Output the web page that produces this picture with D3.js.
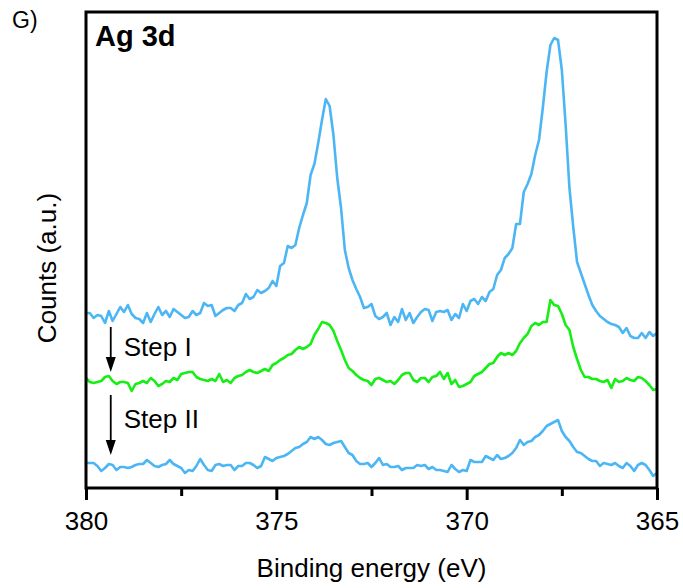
<!DOCTYPE html>
<html>
<head>
<meta charset="utf-8">
<script src="https://cdn.jsdelivr.net/npm/d3@7"></script>
<style>
  body { margin: 0; background: #fff; }
  svg { display: block; font-family: "Liberation Sans", Arial, sans-serif; }
</style>
</head>
<body>
<svg id="chart" width="683" height="588"></svg>
<script>
// scan grid: 380 eV down to 365 eV, 0.1 eV per step
var energyStart = 380, energyStep = 0.1, nPoints = 151;

// counts (a.u.), one value per scan step
var asPrepared = [
  175,175,170,173,172,165,177,167,174,181, 176,183,174,170,169,165,175,166,174,181,
  173,177,171,179,176,173,170,171,177,173, 175,185,182,183,172,175,178,180,180,177,
  183,185,194,189,191,198,195,197,200,207, 202,222,225,242,240,243,260,273,285,313,
  324,345,368,389,382,353,310,280,238,220, 208,199,191,180,181,184,172,169,171,175,
  163,171,166,179,168,175,165,171,176,179, 178,167,176,177,176,178,168,174,170,184,
  177,187,189,184,191,187,196,199,213,218, 230,234,240,264,264,296,304,314,333,348,
  380,416,443,450,448,418,363,300,261,226, 215,204,193,183,177,172,169,166,164,163,
  161,155,160,152,150,150,155,150,156,152,155
];
var stepI = [
  110,106,105,106,107,111,112,107,104,106, 106,105,97,104,105,107,105,110,107,102,
  104,107,106,110,108,114,115,116,116,111, 109,108,107,109,107,114,106,108,105,110,
  112,113,116,118,116,115,117,119,117,123, 125,128,130,133,134,138,141,139,141,144,
  153,159,166,165,163,157,147,138,128,120, 117,113,110,108,107,103,109,110,108,106,
  107,104,108,113,115,115,108,106,110,110, 106,111,112,116,109,115,104,108,101,102,
  104,106,112,114,116,120,124,125,131,135, 133,135,133,137,145,150,154,162,165,163,
  166,166,188,183,182,174,163,158,141,129, 118,111,111,109,109,107,106,108,100,109,
  106,107,110,108,107,111,110,107,103,98,99
];
var stepII = [
  25,25,25,22,17,20,24,23,18,21, 21,20,21,23,24,24,28,25,22,21,
  23,24,28,24,22,20,15,18,17,22, 29,23,18,17,23,24,22,23,23,18,
  22,22,25,25,23,20,22,31,29,27, 30,31,32,34,37,40,41,44,46,51,
  49,51,48,44,43,45,46,47,41,35, 33,27,24,24,25,21,25,30,23,24,
  21,21,22,18,20,20,20,23,22,23, 19,21,18,18,17,16,23,19,16,18,
  17,28,26,26,26,32,30,28,33,29, 30,32,35,40,48,43,46,47,51,53,
  57,62,64,66,68,57,51,47,41,36, 35,32,29,27,27,22,25,24,23,25,
  22,20,25,22,17,23,25,23,18,12,15
];

var xTicksMajor = [380, 375, 370, 365];
var xTicksMinor = [377.5, 372.5, 367.5];

var series = [
  { name: "as prepared", values: asPrepared, color: "#4cb6f5" },
  { name: "Step I", values: stepI, color: "#16ee16" },
  { name: "Step II", values: stepII, color: "#4cb6f5" }
];

var energies = d3.range(nPoints).map(function (i) { return energyStart - i * energyStep; });

var svg = d3.select("#chart");
var plotL = 86, plotR = 657, plotT = 12, plotB = 488;

var x = d3.scaleLinear().domain([380, 365]).range([plotL, plotR]);
var y = d3.scaleLinear().domain([0, 476]).range([plotB, plotT]);

var line = d3.line()
  .x(function (d) { return x(d.e); })
  .y(function (d) { return y(d.v); });

series.forEach(function (s) {
  var pts = s.values.map(function (v, i) { return { e: energies[i], v: v }; });
  svg.append("path")
    .datum(pts)
    .attr("fill", "none")
    .attr("stroke", s.color)
    .attr("stroke-width", 2.6)
    .attr("stroke-linejoin", "round")
    .attr("d", line);
});

// frame
svg.append("rect")
  .attr("x", plotL).attr("y", plotT)
  .attr("width", plotR - plotL).attr("height", plotB - plotT)
  .attr("fill", "none").attr("stroke", "#000").attr("stroke-width", 3);

// minor ticks
svg.append("g")
  .attr("transform", "translate(0," + plotB + ")")
  .call(d3.axisBottom(x).tickValues(xTicksMinor).tickSize(8).tickFormat(""))
  .call(function (g) {
    g.select(".domain").remove();
    g.selectAll("line").attr("stroke-width", 3);
  });

// major ticks with labels
svg.append("g")
  .attr("transform", "translate(0," + plotB + ")")
  .call(d3.axisBottom(x).tickValues(xTicksMajor).tickSize(12).tickPadding(12).tickFormat(d3.format("d")))
  .call(function (g) {
    g.select(".domain").remove();
    g.selectAll("line").attr("stroke-width", 3);
    g.selectAll("text")
      .attr("fill", "#000")
      .style("font-size", "26px")
      .style("font-family", "'Liberation Sans', Arial, sans-serif");
  });

svg.append("text")
  .attr("x", (plotL + plotR) / 2).attr("y", 577)
  .attr("text-anchor", "middle")
  .style("font-size", "26px")
  .text("Binding energy (eV)");

svg.append("text")
  .attr("transform", "translate(56,268) rotate(-90)")
  .attr("text-anchor", "middle")
  .style("font-size", "26px")
  .text("Counts (a.u.)");

svg.append("text")
  .attr("x", 95).attr("y", 46)
  .style("font-size", "29px").style("font-weight", "bold")
  .text("Ag 3d");

svg.append("text")
  .attr("x", 12).attr("y", 28)
  .style("font-size", "23px")
  .text("G)");

// step arrows
var steps = [
  { label: "Step I", from: 161, to: 116, textY: 356 },
  { label: "Step II", from: 93, to: 33, textY: 428 }
];
var ax = x(379.35);
steps.forEach(function (s) {
  var y0 = y(s.from), y1 = y(s.to);
  svg.append("line")
    .attr("x1", ax).attr("x2", ax)
    .attr("y1", y0).attr("y2", y1 - 12)
    .attr("stroke", "#000").attr("stroke-width", 1.8);
  svg.append("path")
    .attr("d", "M" + (ax - 5) + "," + (y1 - 15) + "L" + (ax + 5) + "," + (y1 - 15) + "L" + ax + "," + y1 + "Z")
    .attr("fill", "#000");
  svg.append("text")
    .attr("x", ax + 13).attr("y", s.textY)
    .style("font-size", "26px")
    .text(s.label);
});
</script>
</body>
</html>
